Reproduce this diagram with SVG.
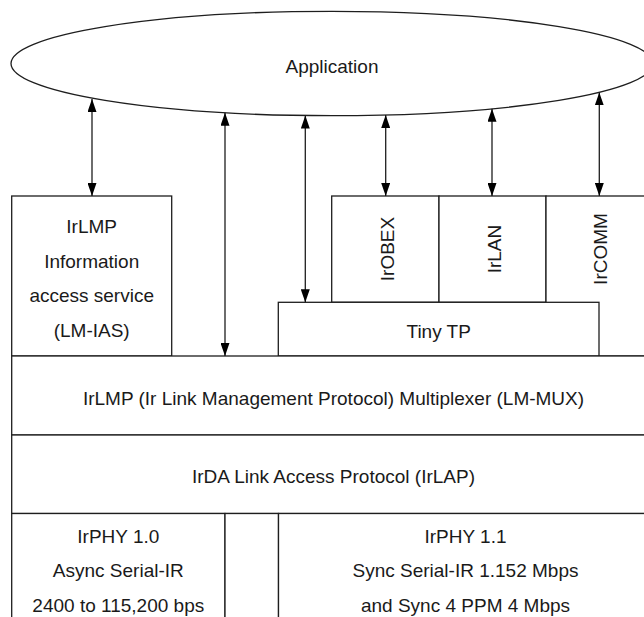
<svg xmlns="http://www.w3.org/2000/svg" width="644" height="617" viewBox="0 0 644 617">
<style>
  .box { fill: #ffffff; stroke: #1e1e1e; stroke-width: 1.3; }
  .lbl { font-family: "Liberation Sans", Arial, sans-serif; font-size: 19px; fill: #1a1a1a; text-anchor: middle; }
  .conn { stroke: #1e1e1e; stroke-width: 1.3; fill: none; marker-start: url(#arrS); marker-end: url(#arrE); }
</style>
<defs>
  <marker id="arrE" markerUnits="userSpaceOnUse" markerWidth="13" markerHeight="9" refX="13" refY="4.5" orient="auto">
    <path d="M0,0 L13,4.5 L0,9 Z" fill="#000"/>
  </marker>
  <marker id="arrS" markerUnits="userSpaceOnUse" markerWidth="13" markerHeight="9" refX="13" refY="4.5" orient="auto-start-reverse">
    <path d="M0,0 L13,4.5 L0,9 Z" fill="#000"/>
  </marker>
</defs>
<rect width="644" height="617" fill="#ffffff"/>

<g id="application">
  <ellipse cx="332" cy="63.5" rx="321" ry="52.2" class="box"/>
  <text x="332" y="72.7" class="lbl">Application</text>
</g>

<g id="lm-ias">
  <rect x="11.7" y="196" width="160" height="160" class="box"/>
  <text x="91.7" y="233" class="lbl">IrLMP</text>
  <text x="91.7" y="267.5" class="lbl">Information</text>
  <text x="91.7" y="302" class="lbl">access service</text>
  <text x="91.7" y="336.5" class="lbl">(LM-IAS)</text>
</g>

<g id="irobex">
  <rect x="331.7" y="196" width="107.3" height="106.3" class="box"/>
  <text x="393.8" y="249" class="lbl" transform="rotate(-90 393.8 249)">IrOBEX</text>
</g>

<g id="irlan">
  <rect x="439" y="196" width="107" height="106.3" class="box"/>
  <text x="500.8" y="249" class="lbl" transform="rotate(-90 500.8 249)">IrLAN</text>
</g>

<g id="ircomm">
  <rect x="546" y="196" width="110" height="160" class="box"/>
  <text x="607.3" y="249" class="lbl" transform="rotate(-90 607.3 249)">IrCOMM</text>
</g>

<g id="tiny-tp">
  <rect x="278.3" y="302.3" width="320.7" height="53.7" class="box"/>
  <text x="438.7" y="338.3" class="lbl">Tiny TP</text>
</g>

<g id="lm-mux">
  <rect x="11.7" y="356" width="645" height="79" class="box"/>
  <text x="333.5" y="405" class="lbl">IrLMP (Ir Link Management Protocol) Multiplexer (LM-MUX)</text>
</g>

<g id="irlap">
  <rect x="11.7" y="435" width="645" height="78.5" class="box"/>
  <text x="333.5" y="483" class="lbl">IrDA Link Access Protocol (IrLAP)</text>
</g>

<g id="irphy10">
  <rect x="11.7" y="513.5" width="213.3" height="120" class="box"/>
  <text x="118.3" y="543.3" class="lbl">IrPHY 1.0</text>
  <text x="118.3" y="577.3" class="lbl">Async Serial-IR</text>
  <text x="118.3" y="611.7" class="lbl">2400 to 115,200 bps</text>
</g>

<g id="phy-gap">
  <rect x="225" y="513.5" width="53.5" height="120" class="box"/>
</g>

<g id="irphy11">
  <rect x="278.5" y="513.5" width="378" height="120" class="box"/>
  <text x="465.5" y="543.3" class="lbl">IrPHY 1.1</text>
  <text x="465.5" y="577.3" class="lbl">Sync Serial-IR 1.152 Mbps</text>
  <text x="465.5" y="611.7" class="lbl">and Sync 4 PPM 4 Mbps</text>
</g>

<g id="connectors">
  <line x1="92" y1="99" x2="92" y2="196" class="conn"/>
  <line x1="225" y1="112.7" x2="225" y2="356" class="conn"/>
  <line x1="305.3" y1="115.5" x2="305.3" y2="302.3" class="conn"/>
  <line x1="385.7" y1="115" x2="385.7" y2="196" class="conn"/>
  <line x1="492" y1="108.8" x2="492" y2="196" class="conn"/>
  <line x1="599.3" y1="92.4" x2="599.3" y2="196" class="conn"/>
</g>
</svg>
